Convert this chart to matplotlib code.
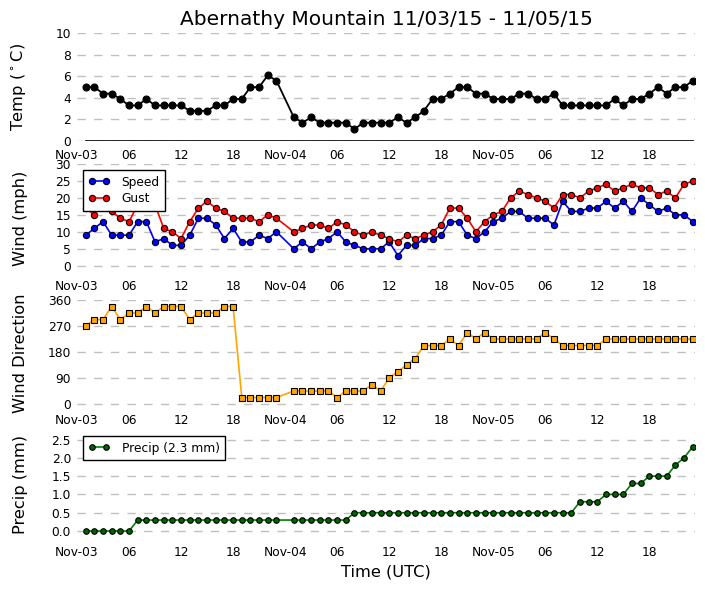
import matplotlib
matplotlib.use('Agg')
import matplotlib.pyplot as plt
import matplotlib.dates as mdates
import pandas as pd

# hourly obs, the Nov-04 00:00 report is missing
times = pd.date_range('2015-11-03 01:00', '2015-11-05 23:00', freq='h')
times = times[times != pd.Timestamp('2015-11-04 00:00')]

temp_c = [5.0, 5.0, 4.4, 4.4, 3.9, 3.3, 3.3, 3.9, 3.3, 3.3, 3.3, 3.3, 2.8, 2.8, 2.8, 3.3, 3.3, 3.9, 3.9, 5.0, 5.0, 6.1, 5.6,
          2.2, 1.7, 2.2, 1.7, 1.7, 1.7, 1.7, 1.1, 1.7, 1.7,
          1.7, 1.7, 2.2, 1.7, 2.2, 2.8, 3.9, 3.9, 4.4, 5.0, 5.0, 4.4, 4.4, 3.9, 3.9, 3.9, 4.4, 4.4, 3.9, 3.9, 4.4,
          3.3, 3.3, 3.3, 3.3, 3.3, 3.3, 3.9, 3.3, 3.9, 3.9, 4.4, 5.0, 4.4, 5.0, 5.0, 5.6]

speed = [9, 11, 13, 9, 9, 9, 13, 13, 7, 8, 6, 6, 9, 14, 14, 12, 8, 11, 7, 7, 9, 8, 10,
         5, 7, 5, 7, 8, 10, 7, 6, 5, 5,
         5, 7, 3, 6, 6, 8, 8, 9, 13, 13, 9, 8, 10, 13, 14, 16, 16, 14, 14, 14, 12,
         19, 16, 16, 17, 17, 19, 17, 19, 16, 20, 18, 16, 17, 15, 15, 13]

gust = [17, 15, 18, 16, 14, 13, 18, 18, 18, 11, 10, 8, 13, 17, 19, 17, 16, 14, 14, 14, 13, 15, 14,
        10, 11, 12, 12, 11, 13, 12, 10, 9, 10,
        9, 8, 7, 9, 8, 9, 10, 12, 17, 17, 14, 10, 13, 15, 16, 20, 22, 21, 20, 19, 17,
        21, 21, 20, 22, 23, 24, 22, 23, 24, 23, 23, 21, 22, 20, 24, 25]

wind_dir = [270, 292.5, 292.5, 337.5, 292.5, 315, 315, 337.5, 315, 337.5, 337.5, 337.5, 292.5, 315, 315, 315,
            337.5, 337.5, 22.5, 22.5, 22.5, 22.5, 22.5,
            45, 45, 45, 45, 45, 22.5, 45, 45, 45, 67.5,
            45, 90, 112.5, 135, 157.5, 202.5, 202.5, 202.5, 225, 202.5, 247.5, 225, 247.5,
            225, 225, 225, 225, 225, 225, 247.5, 225, 202.5, 202.5, 202.5, 202.5, 202.5,
            225, 225, 225, 225, 225, 225, 225, 225, 225, 225, 225]

precip = [0.0, 0.0, 0.0, 0.0, 0.0, 0.0] + [0.3] * 17 + [0.3] * 7 + [0.5] * 3 + [0.5] * 23 + \
         [0.8, 0.8, 0.8, 1.0, 1.0, 1.0, 1.3, 1.3, 1.5, 1.5, 1.5, 1.8, 2.0, 2.3]

FREEZING_C = 0.0

FS_TICK = 8.8
FS_LABEL = 11.7
GRID_KW = dict(color='#c0c0c0', linestyle=(0, (6, 6)), linewidth=1.0)


def fmt_time(x, pos=None):
    d = mdates.num2date(x)
    if d.hour == 0:
        return d.strftime('%b-%d')
    return d.strftime('%H')


def style_axis(ax):
    for s in ax.spines.values():
        s.set_visible(False)
    ax.yaxis.grid(True, **GRID_KW)
    ax.xaxis.grid(False)
    ax.set_axisbelow(True)
    ax.tick_params(length=0, labelsize=FS_TICK)
    ax.tick_params(axis='x', pad=5.6)
    ax.tick_params(axis='y', pad=4.3)
    ax.xaxis.set_major_locator(mdates.HourLocator(byhour=[0, 6, 12, 18]))
    ax.xaxis.set_major_formatter(plt.FuncFormatter(fmt_time))
    ax.set_xlim(pd.Timestamp('2015-11-03 00:00'), times[-1] + pd.Timedelta(minutes=16))
    ax.yaxis.set_label_coords(-0.079, 0.5)


fig = plt.figure(figsize=(7.05, 5.93), dpi=100)
W, H = 705.0, 593.0
left, right = 77, 695


def add_panel(top_px, bot_px):
    return fig.add_axes([left / W, (H - bot_px) / H, (right - left) / W, (bot_px - top_px) / H])


mk = dict(markeredgecolor='k', markeredgewidth=0.8)

# temperature
ax = add_panel(33.3, 141)
ax.plot(times, [FREEZING_C] * len(times), color='k', linewidth=1.2)
ax.plot(times, temp_c, '-o', color='k', linewidth=1.3, markersize=5, **mk)
ax.set_ylim(0, 10)
ax.set_yticks([0, 2, 4, 6, 8, 10])
ax.set_ylabel(r'Temp ($^\circ$C)', fontsize=FS_LABEL)
ax.set_title('Abernathy Mountain 11/03/15 - 11/05/15', fontsize=14.5, pad=6)
style_axis(ax)

# wind speed / gust
ax = add_panel(164, 272)
ax.plot(times, speed, '-o', color='b', linewidth=1.2, markersize=4.5, label='Speed', **mk)
ax.plot(times, gust, '-o', color='r', linewidth=1.2, markersize=4.5, label='Gust', **mk)
ax.set_ylim(-1.86, max(gust) * 1.2)
ax.set_yticks(range(0, 31, 5))
ax.set_ylabel('Wind (mph)', fontsize=FS_LABEL)
leg = ax.legend(loc='upper left', fontsize=FS_TICK, numpoints=2, fancybox=False, framealpha=1,
                edgecolor='k', handlelength=1.7, handletextpad=1.0, borderpad=0.45, labelspacing=0.3)
leg.get_frame().set_linewidth(1.0)
style_axis(ax)

# wind direction
ax = add_panel(300, 406)
ax.plot(times, wind_dir, '-s', color='orange', linewidth=1.2, markersize=3.8, **mk)
ax.set_ylim(-6.9, 360)
ax.set_yticks([0, 90, 180, 270, 360])
ax.set_ylabel('Wind Direction', fontsize=FS_LABEL)
style_axis(ax)

# precip
ax = add_panel(430, 538)
ax.plot(times, precip, '-o', color='green', linewidth=1.2, markersize=4, markerfacecolor='darkgreen',
        label='Precip (%.1f mm)' % max(precip), **mk)
ax.set_ylim(-0.19, max(precip) * 1.2)
ax.set_yticks([0.0, 0.5, 1.0, 1.5, 2.0, 2.5])
ax.set_ylabel('Precip (mm)', fontsize=FS_LABEL)
ax.set_xlabel('Time (UTC)', fontsize=FS_LABEL, labelpad=4)
leg = ax.legend(loc='upper left', fontsize=FS_TICK, numpoints=2, fancybox=False, framealpha=1,
                edgecolor='k', handlelength=1.7, handletextpad=1.0, borderpad=0.45)
leg.get_frame().set_linewidth(1.0)
style_axis(ax)

fig.savefig('out.png', dpi=100)
